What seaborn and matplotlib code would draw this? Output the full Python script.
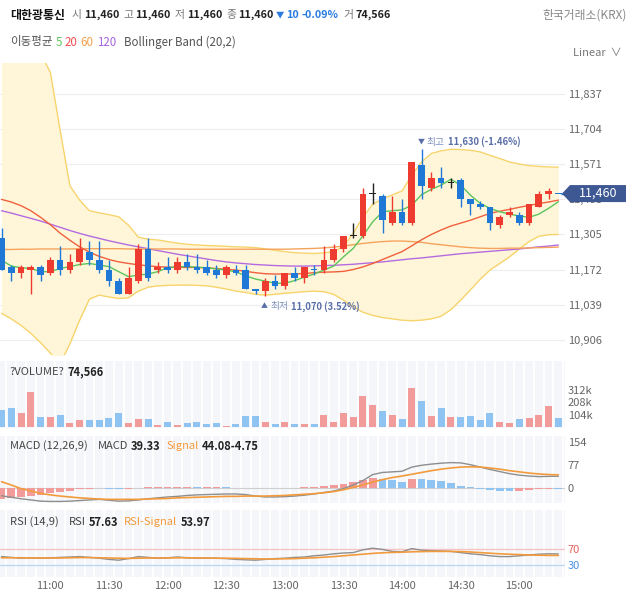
import numpy as np
import pandas as pd
import matplotlib
matplotlib.use("Agg")
import matplotlib.pyplot as plt
import seaborn as sns
from matplotlib.patches import Polygon

# ---------------- data ----------------
times = pd.date_range("2024-01-02 10:35", periods=58, freq="5min").strftime("%H:%M").tolist()

opens = [11290, 11180, 11160, 11170, 11180, 11160, 11210, 11170, 11200, 11240,
         11210, 11170, 11130, 11080, 11130, 11250, 11170, 11180, 11170, 11200,
         11180, 11180, 11170, 11150, 11170, 11170, 11100, 11090, 11130, 11110,
         11160, 11140, 11170, 11170, 11210, 11250, 11300, 11300, 11460, 11450,
         11350, 11390, 11350, 11570, 11480, 11520, 11500, 11510, 11440, 11420,
         11410, 11340, 11380, 11380, 11350, 11410, 11460, 11460]
highs = [11330, 11190, 11190, 11190, 11190, 11220, 11260, 11230, 11290, 11280,
         11280, 11210, 11140, 11180, 11270, 11290, 11200, 11220, 11220, 11230,
         11230, 11210, 11190, 11190, 11190, 11190, 11100, 11140, 11150, 11160,
         11180, 11180, 11190, 11260, 11270, 11300, 11350, 11480, 11500, 11460,
         11450, 11440, 11580, 11630, 11540, 11560, 11520, 11520, 11440, 11430,
         11410, 11380, 11410, 11390, 11420, 11470, 11480, 11460]
lows = [11170, 11130, 11140, 11080, 11130, 11150, 11150, 11160, 11190, 11190,
        11160, 11110, 11080, 11080, 11120, 11130, 11160, 11160, 11160, 11170,
        11160, 11150, 11140, 11140, 11150, 11100, 11080, 11070, 11100, 11100,
        11130, 11120, 11150, 11160, 11200, 11240, 11290, 11290, 11420, 11310,
        11340, 11340, 11340, 11440, 11470, 11480, 11480, 11410, 11380, 11400,
        11320, 11330, 11370, 11340, 11340, 11410, 11440, 11460]
closes = [11170, 11160, 11180, 11180, 11150, 11210, 11170, 11200, 11250, 11210,
          11170, 11130, 11080, 11140, 11250, 11140, 11180, 11170, 11200, 11180,
          11170, 11160, 11150, 11180, 11160, 11100, 11090, 11130, 11110, 11160,
          11140, 11180, 11170, 11210, 11250, 11300, 11300, 11460, 11460, 11360,
          11390, 11350, 11580, 11490, 11520, 11500, 11500, 11440, 11420, 11410,
          11350, 11370, 11390, 11350, 11420, 11460, 11470, 11460]
volumes = [140000, 156000, 113000, 288000, 80000, 80000, 98000, 37000, 61000, 55000,
           55000, 73000, 119000, 34000, 64000, 64000, 19000, 43000, 16000, 37000,
           43000, 27000, 34000, 9000, 24000, 89000, 89000, 43000, 27000, 43000,
           27000, 27000, 27000, 98000, 43000, 113000, 80000, 260000, 180000, 132000,
           98000, 70000, 328000, 218000, 89000, 156000, 80000, 80000, 89000, 55000,
           113000, 43000, 37000, 67000, 73000, 101000, 175000, 74566]

ma5 = [11208, 11185, 11179, 11176, 11164, 11164, 11176, 11183, 11191, 11195,
       11189, 11183, 11164, 11145, 11151, 11155, 11164, 11179, 11183, 11183,
       11181, 11179, 11174, 11170, 11163, 11148, 11136, 11128, 11120, 11120,
       11130, 11143, 11155, 11170, 11185, 11220, 11252, 11300, 11353, 11391,
       11395, 11398, 11416, 11456, 11476, 11492, 11514, 11492, 11454, 11423,
       11404, 11391, 11382, 11375, 11370, 11382, 11404, 11429]
ma20 = [11438, 11428, 11414, 11395, 11370, 11342, 11310, 11283, 11258, 11238,
        11222, 11210, 11201, 11195, 11190, 11186, 11183, 11181, 11180, 11180,
        11180, 11178, 11176, 11173, 11170, 11165, 11160, 11156, 11155, 11155,
        11155, 11157, 11160, 11162, 11163, 11165, 11172, 11182, 11195, 11210,
        11225, 11240, 11262, 11285, 11305, 11322, 11337, 11348, 11359, 11372,
        11385, 11393, 11400, 11408, 11415, 11422, 11428, 11435]
ma60 = [11248, 11248, 11249, 11249, 11250, 11250, 11250, 11250, 11251, 11251,
        11251, 11251, 11251, 11250, 11250, 11250, 11250, 11250, 11250, 11249,
        11249, 11249, 11249, 11249, 11249, 11249, 11249, 11249, 11249, 11249,
        11250, 11251, 11252, 11254, 11257, 11261, 11266, 11271, 11275, 11278,
        11280, 11280, 11278, 11275, 11270, 11266, 11262, 11258, 11255, 11253,
        11252, 11252, 11253, 11253, 11254, 11255, 11256, 11257]
ma120 = [11395, 11386, 11376, 11366, 11356, 11344, 11332, 11320, 11309, 11299,
         11290, 11281, 11273, 11265, 11258, 11251, 11244, 11237, 11230, 11224,
         11218, 11212, 11206, 11201, 11197, 11194, 11191, 11189, 11187, 11186,
         11185, 11185, 11186, 11187, 11188, 11190, 11192, 11195, 11198, 11201,
         11205, 11209, 11213, 11216, 11220, 11224, 11228, 11232, 11235, 11238,
         11241, 11244, 11247, 11250, 11254, 11258, 11261, 11265]
bb_upper = [12150, 12100, 12060, 12020, 11990, 11920, 11700, 11490, 11435, 11395,
            11387, 11380, 11372, 11340, 11295, 11287, 11284, 11278, 11272, 11268,
            11265, 11263, 11262, 11260, 11258, 11257, 11255, 11250, 11245, 11240,
            11236, 11234, 11233, 11235, 11240, 11260, 11310, 11370, 11420, 11440,
            11455, 11470, 11530, 11580, 11612, 11622, 11628, 11627, 11624, 11618,
            11605, 11593, 11580, 11572, 11566, 11563, 11561, 11560]
bb_lower = [11006, 10985, 10960, 10930, 10895, 10855, 10815, 10890, 10980, 11060,
            11075, 11068, 11062, 11065, 11090, 11105, 11110, 11112, 11113, 11113,
            11112, 11110, 11105, 11098, 11090, 11085, 11078, 11075, 11078, 11082,
            11085, 11088, 11090, 11088, 11078, 11056, 11030, 11010, 10998, 10990,
            10985, 10980, 10978, 10980, 10985, 10995, 11020, 11056, 11095, 11135,
            11170, 11195, 11220, 11250, 11278, 11298, 11304, 11305]

macd = [-26, -31, -36, -40, -44, -45, -45, -44, -42, -40,
        -38, -41, -44, -43, -40, -36, -33, -30, -28, -25,
        -23, -22, -21, -20, -20, -22, -27, -30, -30, -29,
        -27, -24, -20, -15, -10, -2, 10, 25, 45, 52,
        54, 56, 70, 76, 80, 83, 85, 84, 78, 70,
        62, 55, 48, 43, 40, 38, 39, 39.33]
macd_signal = [21, 10, -2, -10, -18, -23, -27, -30, -33, -35,
               -37, -38, -38, -38, -38, -37, -36, -35, -33, -32,
               -31, -30, -29, -28, -28, -27, -27, -27, -26, -25,
               -23, -21, -19, -16, -12, -6, 2, 10, 20, 28,
               35, 40, 46, 52, 58, 63, 67, 70, 71, 70,
               67, 63, 58, 54, 50, 47, 45, 44.08]
macd_hist = [-38, -33, -29, -26, -22, -18, -13, -9, -5, -2,
             -1, -3, -4, -3, -1, 2, 3, 4, 4, 4,
             3, 3, 3, 2, 1, 0.5, -1, -1, -1, 1,
             1, 3, 5, 8, 10, 14, 20, 27, 34, 30,
             26, 21, 31, 29, 26, 22, 16, 8, 2, -5,
             -7, -9, -11, -9, -7, -5, -3, -4.75]
rsi = [51, 49, 47, 48, 47, 48, 49, 50, 51, 49,
       47, 44, 42, 46, 51, 49, 47, 48, 50, 48,
       47, 47, 47, 46, 44, 43, 42, 44, 46, 47,
       49, 50, 53, 55, 58, 60, 61, 68, 72, 69,
       64, 63, 71, 67, 66, 65, 64, 61, 58, 56,
       53, 51, 51, 53, 55, 57, 58, 57.63]
rsi_signal = [48, 48, 48, 47.5, 47.5, 47.5, 47.5, 48, 48.5, 48.5,
              48, 47.5, 47, 46.5, 47, 47.5, 47.5, 47.5, 48, 48,
              47.5, 47.5, 47, 47, 46.5, 46, 45.5, 45, 45, 45.5,
              46, 47, 48, 49.5, 51, 53, 55, 57, 59, 60.5,
              61.5, 62, 63, 63.5, 64, 64, 64, 63.5, 62.5, 61,
              59.5, 58, 57, 56, 55, 54.5, 54, 53.97]

price_ticks = [10906, 11039, 11172, 11305, 11438, 11571, 11704, 11837]
vol_ticks = [104000, 208000, 312000]
vol_tick_labels = ["104k", "208k", "312k"]
macd_ticks = [0, 77, 154]
rsi_ticks = [30, 70]
time_ticks = ["11:00", "11:30", "12:00", "12:30", "13:00", "13:30", "14:00", "14:30", "15:00"]

# ---------------- style ----------------
sns.set_theme(style="white")
plt.rcParams["font.family"] = ["Noto Sans CJK KR", "DejaVu Sans"]
plt.rcParams["axes.unicode_minus"] = False

RED, BLUE, BLACK = "#ee3b30", "#1f78d6", "#222222"
VRED, VBLUE = "#f29b9b", "#8ec3f2"
C_MA5, C_MA20, C_MA60, C_MA120 = "#5cc45c", "#f0603c", "#f5a35c", "#b46be0"
BB_FILL, BB_EDGE = "#fff6da", "#f7d46c"
LBL = "#666666"
PANEL_BG = "#f4f6f9"

W, H = 631, 591
fig = plt.figure(figsize=(W / 100, H / 100), dpi=100)
fig.patch.set_facecolor("white")


def rect(x0, y0, x1, y1):
    return [x0 / W, 1 - y1 / H, (x1 - x0) / W, (y1 - y0) / H]


ax = fig.add_axes(rect(0, 63, 565, 355))
axv = fig.add_axes(rect(0, 361, 565, 428))
axm = fig.add_axes(rect(0, 436, 565, 503))
axr = fig.add_axes(rect(0, 510, 565, 577))

n = len(times)
idx = np.arange(n)
XL = (-0.154, 57.68)

# candle colours (Korean convention: red up, blue down)
ccol = []
for i in range(n):
    o, c = opens[i], closes[i]
    if c > o:
        ccol.append(RED)
    elif c < o:
        ccol.append(BLUE)
    else:
        p = closes[i - 1] if i > 0 else c
        ccol.append(RED if c > p else (BLUE if c < p else BLACK))

# ---------------- main price panel ----------------
ax.set_facecolor("white")
for t in price_ticks:
    ax.axhline(t, color="#ededed", lw=0.8, zorder=0)
ax.fill_between(idx, bb_lower, bb_upper, color=BB_FILL, lw=0, zorder=1)
sns.lineplot(x=idx, y=bb_upper, ax=ax, color=BB_EDGE, lw=1.0, zorder=2, legend=False)
sns.lineplot(x=idx, y=bb_lower, ax=ax, color=BB_EDGE, lw=1.0, zorder=2, legend=False)
sns.lineplot(x=idx, y=ma120, ax=ax, color=C_MA120, lw=1.0, zorder=3, legend=False)
sns.lineplot(x=idx, y=ma60, ax=ax, color=C_MA60, lw=1.0, zorder=3, legend=False)
sns.lineplot(x=idx, y=ma20, ax=ax, color=C_MA20, lw=1.0, zorder=3, legend=False)
sns.lineplot(x=idx, y=ma5, ax=ax, color=C_MA5, lw=1.0, zorder=3, legend=False)

o_arr, c_arr = np.array(opens), np.array(closes)
ax.vlines(idx, lows, highs, colors=ccol, lw=1.0, zorder=5)
ax.bar(idx, np.maximum(np.abs(c_arr - o_arr), 4), bottom=np.minimum(o_arr, c_arr),
       width=0.68, color=ccol, lw=0, zorder=6)

ax.set_xlim(*XL)
ax.set_ylim(10848, 11955)
ax.yaxis.tick_right()
ax.set_yticks(price_ticks)
ax.set_yticklabels([f"{t:,}" for t in price_ticks])
ax.tick_params(axis="y", length=0, pad=2, labelsize=8, labelcolor=LBL)
ax.tick_params(axis="x", bottom=False, labelbottom=False)
ax.set_xlabel("")
ax.set_ylabel("")

# current-price dashed line
last = closes[-1]
ax.hlines(last, idx[-1] + 0.3, XL[1], colors=BLUE, lw=1.0, linestyles=(0, (3, 2)), zorder=6)

# ---------------- volume panel ----------------
vcol = [VRED if c == RED or c == BLACK else VBLUE for c in ccol]
axv.bar(idx, volumes, width=0.72, color=vcol, lw=0, zorder=2)
axv.set_ylim(-8000, 549000)
axv.set_yticks(vol_ticks)
axv.set_yticklabels(vol_tick_labels)

# ---------------- MACD panel ----------------
hcol = []
for i in range(n):
    prev = macd_hist[i - 1] if i > 0 else macd_hist[i] - 1
    hcol.append(VRED if macd_hist[i] >= prev else VBLUE)
axm.axhline(0, color="#cfcfcf", lw=0.8, zorder=1)
axm.bar(idx, macd_hist, width=0.8, color=hcol, lw=0, zorder=2)
sns.lineplot(x=idx, y=macd, ax=axm, color="#8e8e8e", lw=1.0, zorder=3, legend=False)
sns.lineplot(x=idx, y=macd_signal, ax=axm, color="#f39a3c", lw=1.2, zorder=3, legend=False)
axm.set_ylim(-50.2, 174)
axm.set_yticks(macd_ticks)
axm.set_yticklabels([str(t) for t in macd_ticks])

# ---------------- RSI panel ----------------
axr.axhline(70, color="#f6c4c4", lw=1.0, zorder=1)
axr.axhline(30, color="#bcd8f4", lw=1.0, zorder=1)
sns.lineplot(x=idx, y=rsi, ax=axr, color="#8e8e8e", lw=1.0, zorder=3, legend=False)
sns.lineplot(x=idx, y=rsi_signal, ax=axr, color="#f39a3c", lw=1.2, zorder=3, legend=False)
axr.set_ylim(0, 167.5)
axr.set_yticks(rsi_ticks)
axr.set_yticklabels([str(t) for t in rsi_ticks])

for a in (axv, axm, axr):
    a.set_facecolor(PANEL_BG)
    for x in idx:
        a.axvline(x + 0.5, color="white", lw=1.4, zorder=0)
    a.set_xlim(*XL)
    a.yaxis.tick_right()
    a.tick_params(axis="y", length=0, pad=2, labelsize=8, labelcolor=LBL)
    a.set_xlabel("")
    a.set_ylabel("")

for a in (axv, axm):
    a.tick_params(axis="x", bottom=False, labelbottom=False)

ytl = axr.get_yticklabels()
ytl[0].set_color("#4a90e2")
ytl[1].set_color("#e0605a")

tick_pos = [times.index(t) for t in time_ticks]
axr.set_xticks(tick_pos)
axr.set_xticklabels(time_ticks)
axr.tick_params(axis="x", bottom=False, labelbottom=True, length=0, pad=3, labelsize=8, labelcolor=LBL)

for a in (ax, axv, axm, axr):
    for s in a.spines.values():
        s.set_visible(False)

# ---------------- texts ----------------
renderer = fig.canvas.get_renderer()


def seq(x_px, y_px, parts):
    x = x_px
    for s, color, weight, size, gap in parts:
        t = fig.text(x / W, 1 - y_px / H, s, color=color, fontweight=weight,
                     fontsize=size, ha="left", va="center")
        x += t.get_window_extent(renderer).width + gap
    return x


DK, GR = "#222222", "#777777"
UPDN = "#2a7be0"
fs = 7.8
seq(10, 15, [("대한광통신", "#111111", "bold", 8.6, 7),
             ("시", GR, "normal", fs, 2), ("11,460", DK, "bold", fs, 4),
             ("고", GR, "normal", fs, 2), ("11,460", DK, "bold", fs, 4),
             ("저", GR, "normal", fs, 2), ("11,460", DK, "bold", fs, 4),
             ("종", GR, "normal", fs, 2), ("11,460", DK, "bold", fs, 2),
             ("▼", UPDN, "normal", 6, 2), ("10", UPDN, "bold", fs, 3),
             ("-0.09%", UPDN, "bold", fs, 5),
             ("거", GR, "normal", fs, 2), ("74,566", DK, "bold", fs, 0)])
fig.text(627 / W, 1 - 15 / H, "한국거래소(KRX)", color="#888888", fontsize=8.5, ha="right", va="center")

seq(10, 42, [("이동평균", "#555555", "normal", 8.3, 3),
             ("5", C_MA5, "normal", 8.3, 3), ("20", "#ef4f4f", "normal", 8.3, 3),
             ("60", "#f2a04d", "normal", 8.3, 3), ("120", "#a865e0", "normal", 8.3, 8),
             ("Bollinger Band (20,2)", "#555555", "normal", 8.3, 0)])
fig.text(622 / W, 1 - 53 / H, "Linear  ∨", color="#777777", fontsize=8, ha="right", va="center")

seq(10, 372, [("?VOLUME?", "#444444", "normal", 8, 3), ("74,566", DK, "bold", 8, 0)])
seq(10, 446, [("MACD (12,26,9)", "#444444", "normal", 8, 10),
              ("MACD", "#444444", "normal", 8, 3), ("39.33", DK, "bold", 8, 6),
              ("Signal", "#f39a3c", "normal", 8, 3), ("44.08-4.75", DK, "bold", 8, 0)])
seq(10, 522, [("RSI (14,9)", "#444444", "normal", 8, 10),
              ("RSI", "#444444", "normal", 8, 3), ("57.63", DK, "bold", 8, 6),
              ("RSI-Signal", "#f39a3c", "normal", 8, 3), ("53.97", DK, "bold", 8, 0)])

# high / low annotations
ANN = "#5a6fa8"
imax = int(np.argmax(highs))
imin = int(np.argmin(lows))
hx, hy = ax.transData.transform((idx[imax], highs[imax]))
lx, ly = ax.transData.transform((idx[imin], lows[imin]))
seq(hx - 4, H - hy - 7, [("▼", ANN, "normal", 5, 2), ("최고", "#7f8fbf", "normal", 7, 3),
                         (f"{highs[imax]:,} ({(last / highs[imax] - 1) * 100:.2f}%)", ANN, "bold", 6.8, 0)])
seq(lx - 4, H - ly + 10, [("▲", ANN, "normal", 5, 2), ("최저", "#7f8fbf", "normal", 7, 3),
                          (f"{lows[imin]:,} ({(last / lows[imin] - 1) * 100:.2f}%)", ANN, "bold", 6.8, 0)])

# current price tag
_, py = ax.transData.transform((0, last))
yc = H - py
pts = [(562, yc), (570, yc - 8.5), (626, yc - 8.5), (626, yc + 8.5), (570, yc + 8.5)]
fig.add_artist(Polygon([(x / W, 1 - y / H) for x, y in pts], closed=True,
                       transform=fig.transFigure, facecolor="#3e5894", edgecolor="none", zorder=10))
fig.text(598 / W, 1 - yc / H, f"{last:,}", color="white", fontsize=9, ha="center", va="center", zorder=11)

fig.savefig("out.png", dpi=100, facecolor="white")
